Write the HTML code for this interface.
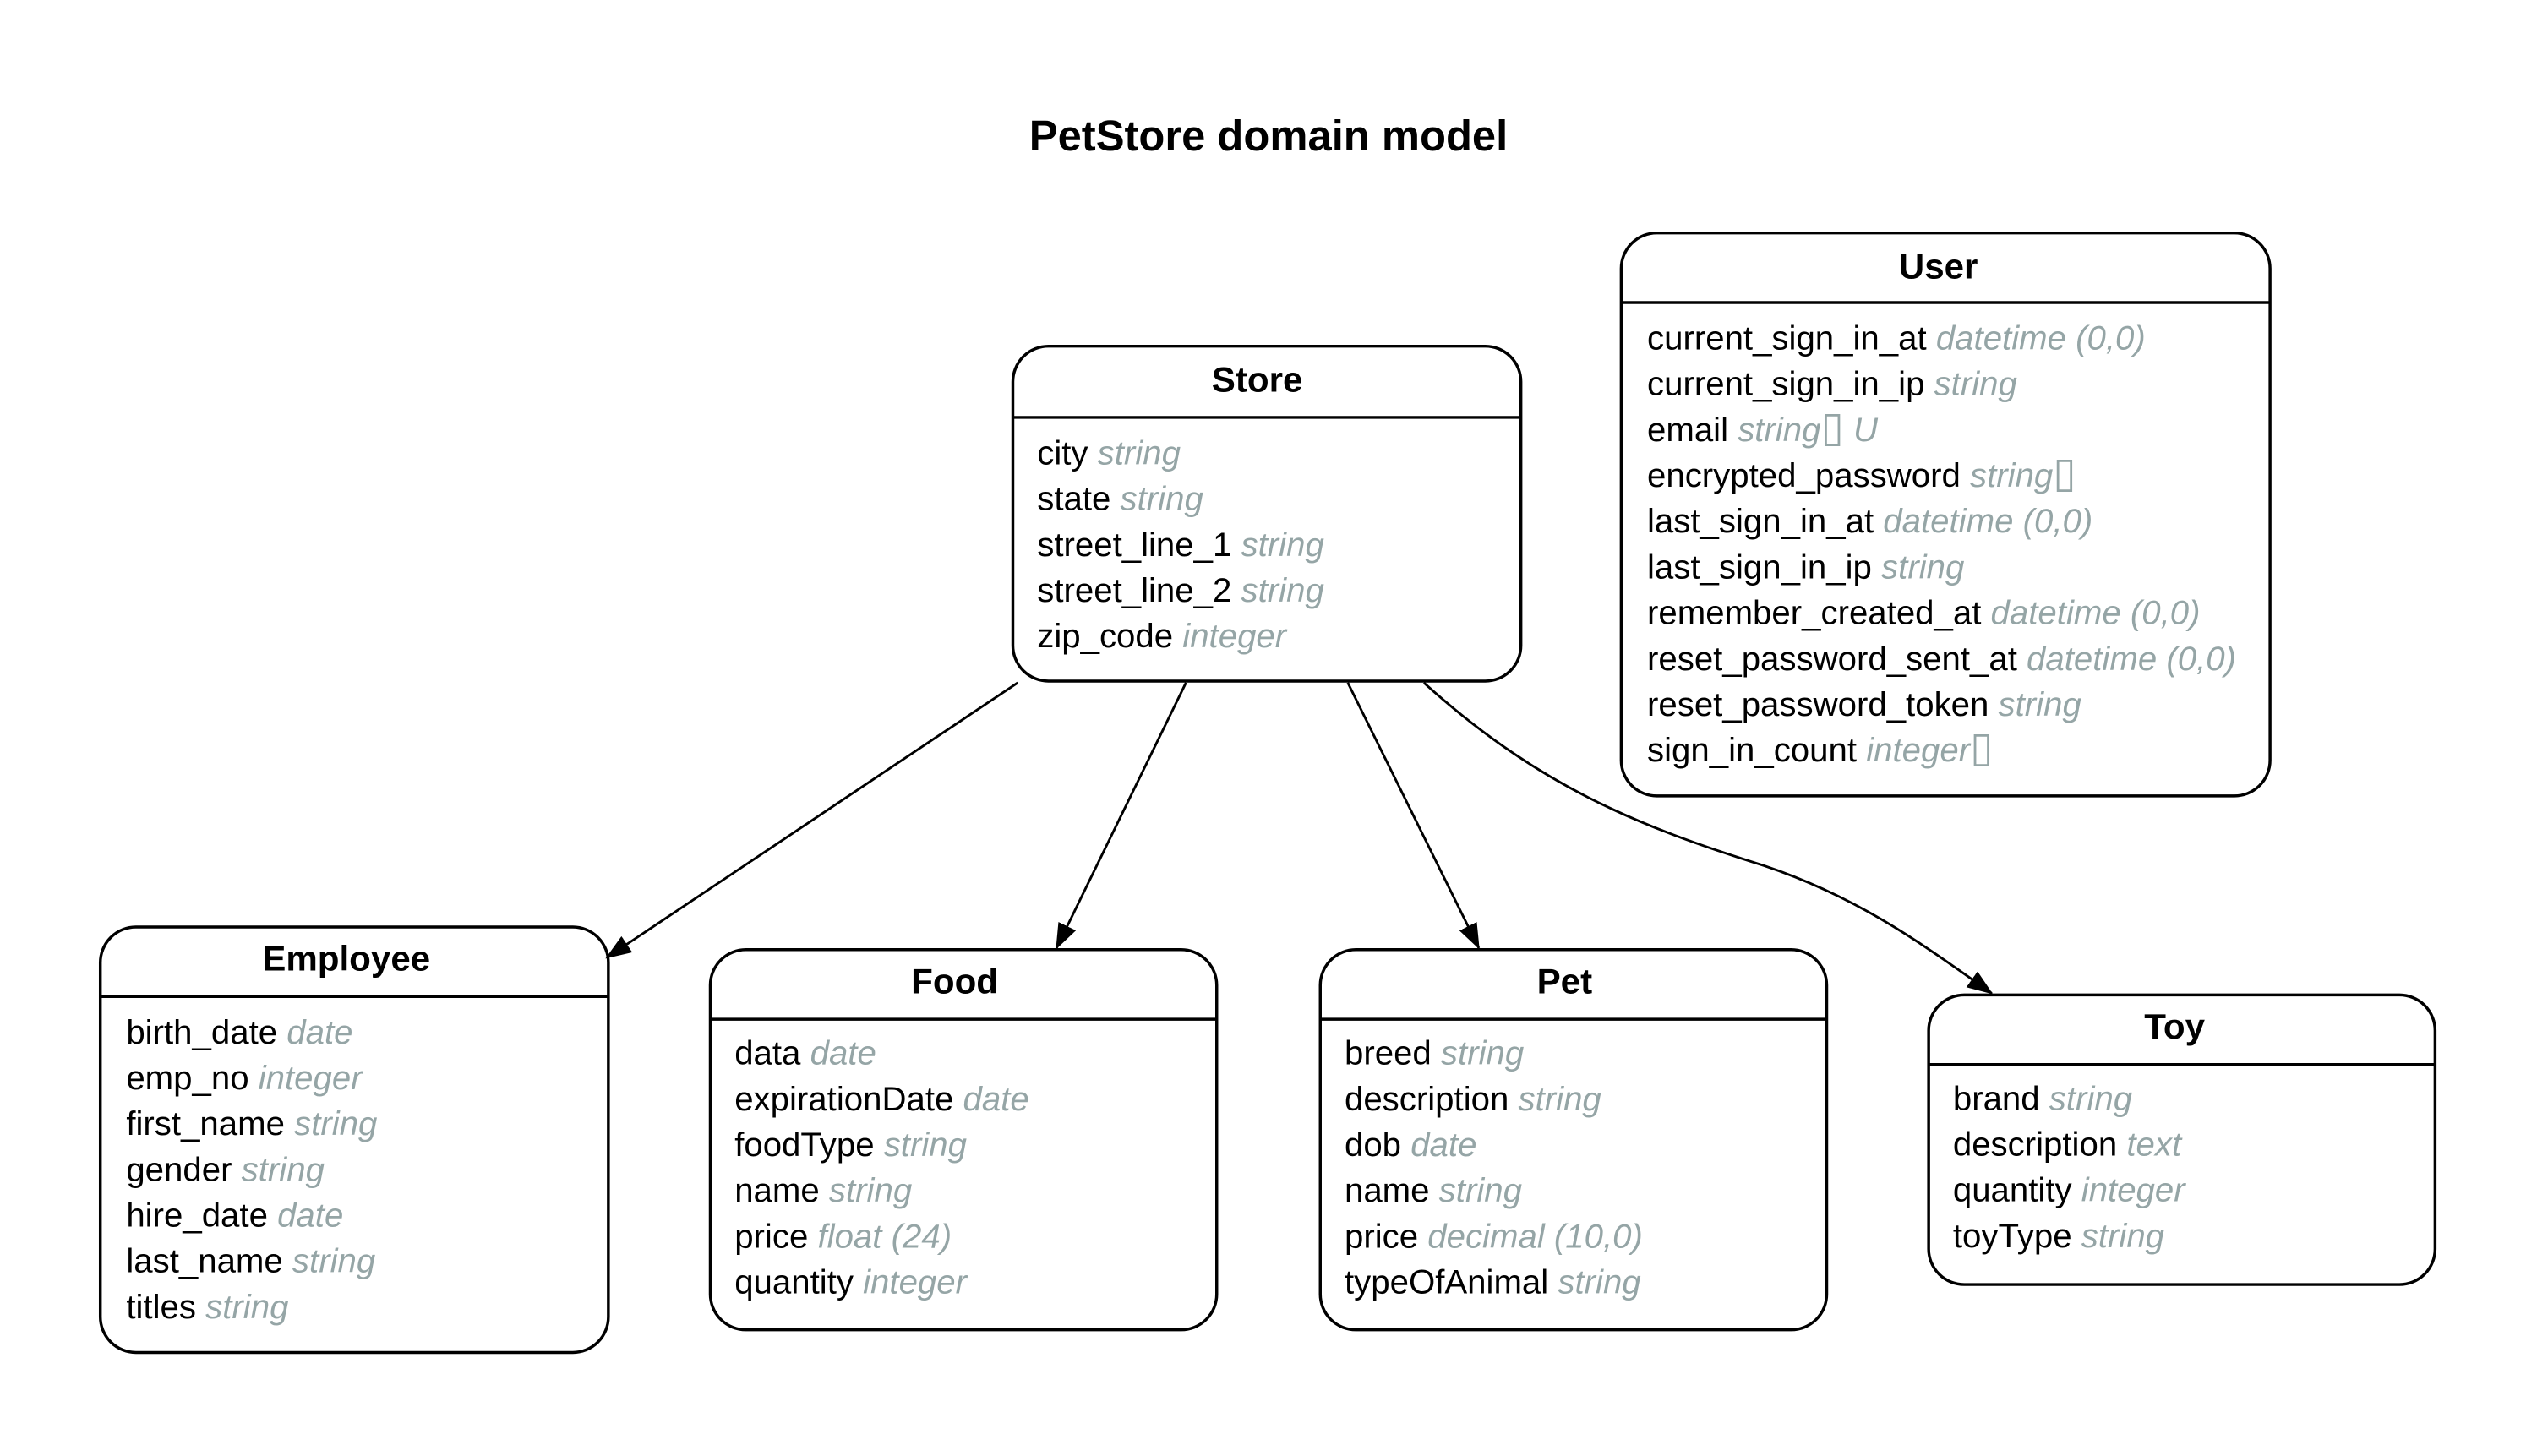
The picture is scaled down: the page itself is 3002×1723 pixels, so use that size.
<!DOCTYPE html>
<html><head><meta charset="utf-8"><style>
html,body{margin:0;padding:0;background:#fff;}
svg{display:block;}
text{font-family:"Liberation Sans",Arial,sans-serif;}
.t{font-size:22px;font-weight:bold;fill:#000;text-anchor:middle;}
.f{font-size:21px;fill:#000;}
.g{fill:#95a5a6;font-style:italic;}
.q{fill:#95a5a6;font-family:"DejaVu Sans",sans-serif;font-style:normal;font-size:26px;}
.b{fill:none;stroke:#000;stroke-width:1.8;}
.e{fill:none;stroke:#000;stroke-width:1.5;}
</style></head><body>
<svg width="3002" height="1723" viewBox="0 0 1568 900" preserveAspectRatio="none" xmlns="http://www.w3.org/2000/svg">
<defs><marker id="a" markerWidth="16" markerHeight="12" refX="15" refY="6" orient="auto" markerUnits="userSpaceOnUse"><path d="M0,0 L16,6 L0,12 z" fill="#000"/></marker></defs>
<text x="784" y="93" style="font-size:26.5px;font-weight:bold;text-anchor:middle">PetStore domain model</text>

<path class="e" d="M629,422 L375,592" marker-end="url(#a)"/>
<path class="e" d="M733,422 L653,586" marker-end="url(#a)"/>
<path class="e" d="M833,422 L914,586" marker-end="url(#a)"/>
<path class="e" d="M880,422 C950,485 1010,510 1090,535 C1150,555 1190,585 1231,614" marker-end="url(#a)"/>

<rect class="b" x="1002" y="144" width="401" height="348" rx="22"/>
<line class="b" x1="1002" y1="187" x2="1403" y2="187"/>
<text class="t" x="1198" y="172">User</text>
<text class="f" x="1018" y="216">current_sign_in_at <tspan class="g">datetime (0,0)</tspan></text>
<text class="f" x="1018" y="244.3">current_sign_in_ip <tspan class="g">string</tspan></text>
<text class="f" x="1018" y="272.6">email <tspan class="g">string</tspan><tspan class="q">▯</tspan> <tspan class="g">U</tspan></text>
<text class="f" x="1018" y="300.9">encrypted_password <tspan class="g">string</tspan><tspan class="q">▯</tspan></text>
<text class="f" x="1018" y="329.2">last_sign_in_at <tspan class="g">datetime (0,0)</tspan></text>
<text class="f" x="1018" y="357.5">last_sign_in_ip <tspan class="g">string</tspan></text>
<text class="f" x="1018" y="385.8">remember_created_at <tspan class="g">datetime (0,0)</tspan></text>
<text class="f" x="1018" y="414.1">reset_password_sent_at <tspan class="g">datetime (0,0)</tspan></text>
<text class="f" x="1018" y="442.4">reset_password_token <tspan class="g">string</tspan></text>
<text class="f" x="1018" y="470.7">sign_in_count <tspan class="g">integer</tspan><tspan class="q">▯</tspan></text>

<rect class="b" x="626" y="214" width="314" height="207" rx="22"/>
<line class="b" x1="626" y1="258" x2="940" y2="258"/>
<text class="t" x="777" y="242">Store</text>
<text class="f" x="641" y="287">city <tspan class="g">string</tspan></text>
<text class="f" x="641" y="315.3">state <tspan class="g">string</tspan></text>
<text class="f" x="641" y="343.6">street_line_1 <tspan class="g">string</tspan></text>
<text class="f" x="641" y="371.9">street_line_2 <tspan class="g">string</tspan></text>
<text class="f" x="641" y="400.2">zip_code <tspan class="g">integer</tspan></text>

<rect class="b" x="62" y="573" width="314" height="263" rx="22"/>
<line class="b" x1="62" y1="616" x2="376" y2="616"/>
<text class="t" x="214" y="600">Employee</text>
<text class="f" x="78" y="645">birth_date <tspan class="g">date</tspan></text>
<text class="f" x="78" y="673.3">emp_no <tspan class="g">integer</tspan></text>
<text class="f" x="78" y="701.6">first_name <tspan class="g">string</tspan></text>
<text class="f" x="78" y="729.9">gender <tspan class="g">string</tspan></text>
<text class="f" x="78" y="758.2">hire_date <tspan class="g">date</tspan></text>
<text class="f" x="78" y="786.5">last_name <tspan class="g">string</tspan></text>
<text class="f" x="78" y="814.8">titles <tspan class="g">string</tspan></text>

<rect class="b" x="439" y="587" width="313" height="235" rx="22"/>
<line class="b" x1="439" y1="630" x2="752" y2="630"/>
<text class="t" x="590" y="614">Food</text>
<text class="f" x="454" y="658">data <tspan class="g">date</tspan></text>
<text class="f" x="454" y="686.3">expirationDate <tspan class="g">date</tspan></text>
<text class="f" x="454" y="714.6">foodType <tspan class="g">string</tspan></text>
<text class="f" x="454" y="742.9">name <tspan class="g">string</tspan></text>
<text class="f" x="454" y="771.2">price <tspan class="g">float (24)</tspan></text>
<text class="f" x="454" y="799.5">quantity <tspan class="g">integer</tspan></text>

<rect class="b" x="816" y="587" width="313" height="235" rx="22"/>
<line class="b" x1="816" y1="630" x2="1129" y2="630"/>
<text class="t" x="967" y="614">Pet</text>
<text class="f" x="831" y="658">breed <tspan class="g">string</tspan></text>
<text class="f" x="831" y="686.3">description <tspan class="g">string</tspan></text>
<text class="f" x="831" y="714.6">dob <tspan class="g">date</tspan></text>
<text class="f" x="831" y="742.9">name <tspan class="g">string</tspan></text>
<text class="f" x="831" y="771.2">price <tspan class="g">decimal (10,0)</tspan></text>
<text class="f" x="831" y="799.5">typeOfAnimal <tspan class="g">string</tspan></text>

<rect class="b" x="1192" y="615" width="313" height="179" rx="22"/>
<line class="b" x1="1192" y1="658" x2="1505" y2="658"/>
<text class="t" x="1344" y="642">Toy</text>
<text class="f" x="1207" y="686">brand <tspan class="g">string</tspan></text>
<text class="f" x="1207" y="714.3">description <tspan class="g">text</tspan></text>
<text class="f" x="1207" y="742.6">quantity <tspan class="g">integer</tspan></text>
<text class="f" x="1207" y="770.9">toyType <tspan class="g">string</tspan></text>
</svg>
</body></html>
